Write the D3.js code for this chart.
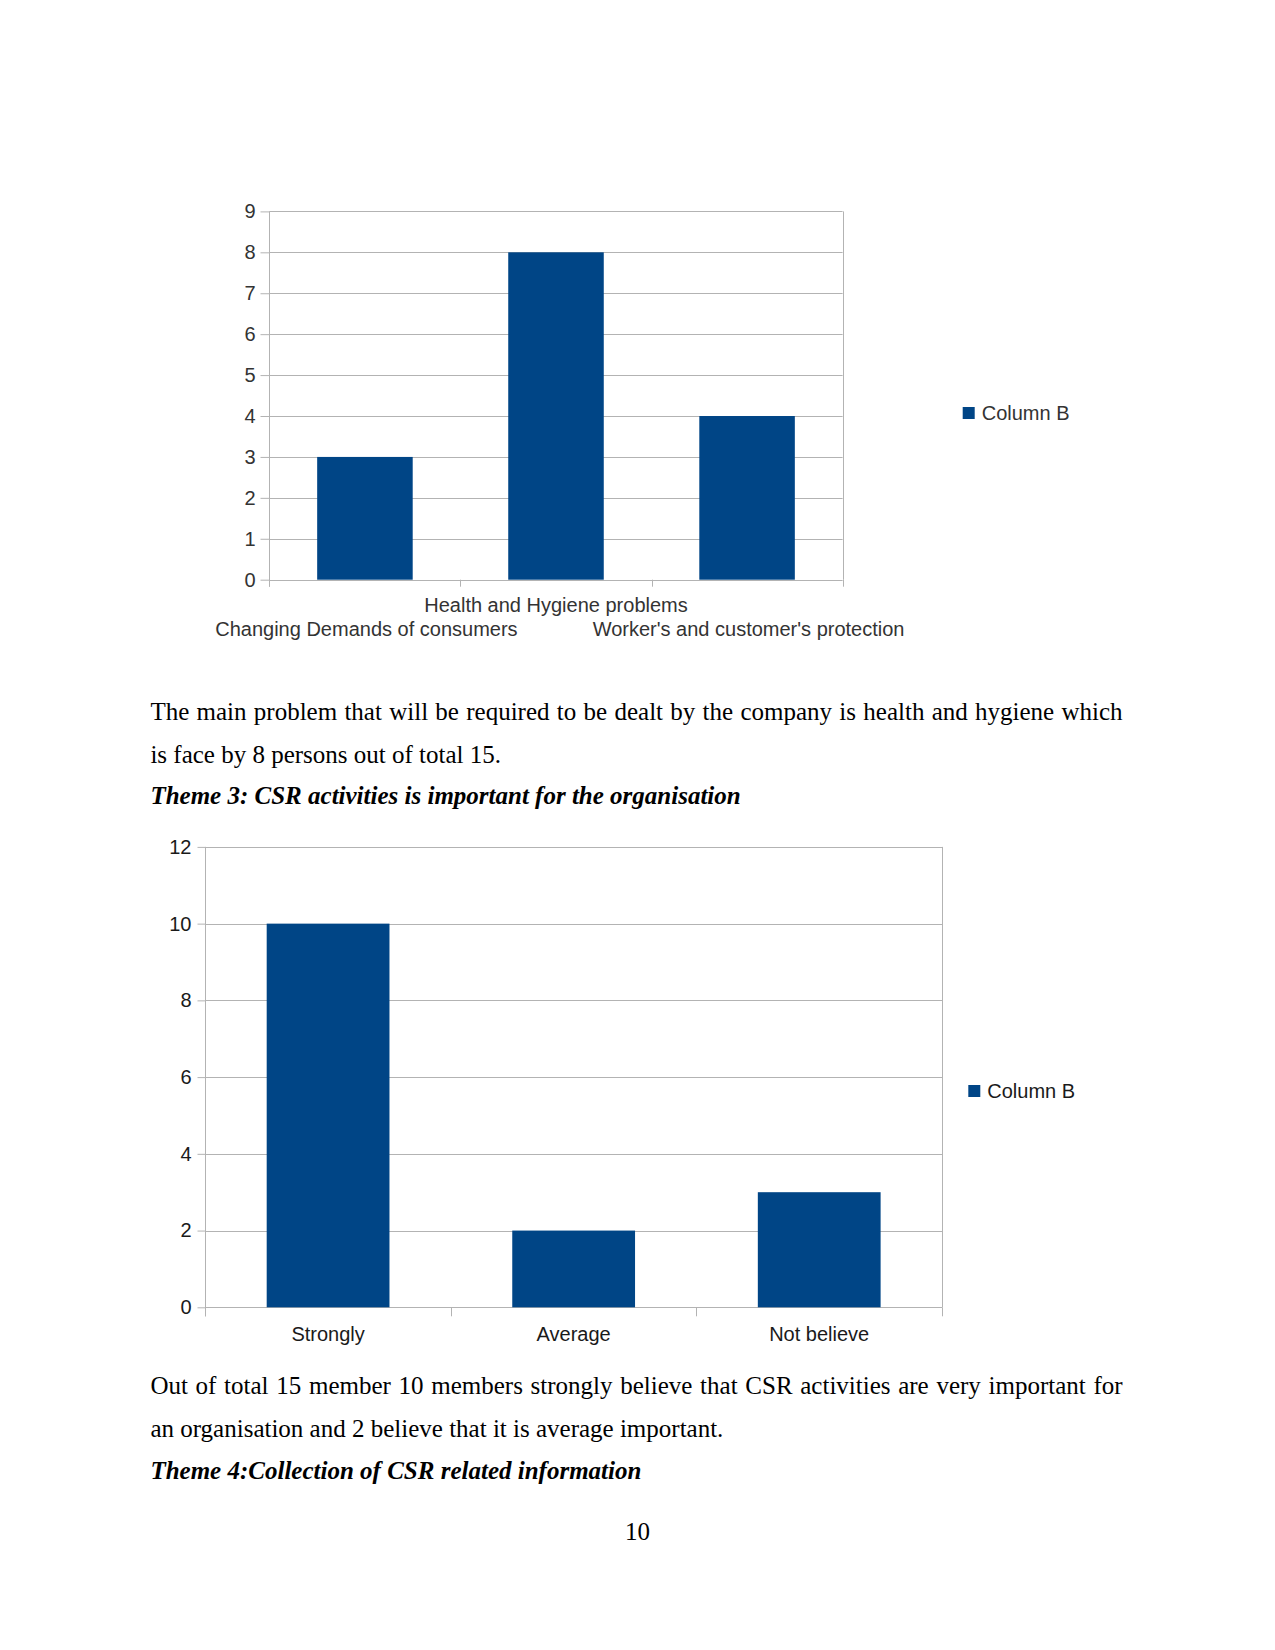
<!DOCTYPE html>
<html><head><meta charset="utf-8">
<script src="https://cdn.jsdelivr.net/npm/d3@7"></script>
<style>
html,body{margin:0;padding:0;background:#fff;}
svg{display:block;}
</style></head>
<body>
<svg id="page" width="1275" height="1650"></svg>
<script>
// ---- data ----
const seriesName = "Column B";
const cats1 = ["Changing Demands of consumers", "Health and Hygiene problems", "Worker's and customer's protection"];
const vals1 = [3, 8, 4];
const ticks1 = [0, 1, 2, 3, 4, 5, 6, 7, 8, 9];
const cats2 = ["Strongly", "Average", "Not believe"];
const vals2 = [10, 2, 3];
const ticks2 = [0, 2, 4, 6, 8, 10, 12];
const para1 = [
  "The main problem that will be required to be dealt by the company is health and hygiene which",
  "is face by 8 persons out of total 15."
];
const heading1 = "Theme 3: CSR activities is important for the organisation";
const para2 = [
  "Out of total 15 member 10 members strongly believe that CSR activities are very important for",
  "an organisation and 2 believe that it is average important."
];
const heading2 = "Theme 4:Collection of CSR related information";
const pageNo = "10";

const svg = d3.select("#page");
svg.append("rect").attr("width",1275).attr("height",1650).attr("fill","#fff");
const BAR = "#004586", GRID = "#b3b3b3";

function chart(o){
  const g = svg.append("g");
  const x = d3.scaleBand().domain(o.cats).range([o.left,o.right]).paddingInner(0.5).paddingOuter(0.25);
  const y = d3.scaleLinear().domain([0,o.max]).range([o.bottom,o.top]);
  // gridlines
  g.selectAll("line.grid").data(o.ticks).join("line")
    .attr("x1",o.left).attr("x2",o.right)
    .attr("y1",d=>Math.round(y(d))+0.5).attr("y2",d=>Math.round(y(d))+0.5)
    .attr("stroke",GRID).attr("stroke-width",1);
  // frame right
  g.append("line").attr("x1",Math.round(o.right)+0.5).attr("x2",Math.round(o.right)+0.5)
    .attr("y1",o.top).attr("y2",o.bottom).attr("stroke",GRID);
  // bars
  g.selectAll("rect.bar").data(o.vals).join("rect")
    .attr("x",(d,i)=>x(o.cats[i])).attr("width",x.bandwidth())
    .attr("y",d=>y(d)).attr("height",d=>y(0)-y(d)).attr("fill",BAR);
  // y axis
  const ya = d3.axisLeft(y).tickValues(o.ticks).tickSize(o.ytick).tickPadding(o.ypad).tickFormat(d3.format("d"));
  const yg = g.append("g").attr("transform",`translate(${Math.round(o.left)+0.5},0)`).call(ya);
  yg.select(".domain").attr("stroke",GRID).attr("d",`M0,${o.top}V${o.bottom+o.xtick}`);
  yg.selectAll(".tick line").attr("stroke",GRID);
  yg.selectAll(".tick text").attr("fill",o.color).attr("font-family","'Liberation Sans',Arial,sans-serif").attr("font-size",o.fs);
  // x axis boundary ticks
  const bounds = o.cats.map((c,i)=>o.left + i*(o.right-o.left)/o.cats.length).concat([o.right]);
  g.selectAll("line.xt").data(bounds).join("line")
    .attr("x1",d=>Math.round(d)+0.5).attr("x2",d=>Math.round(d)+0.5)
    .attr("y1",o.bottom).attr("y2",o.bottom+o.xtick).attr("stroke",GRID);
  // x labels
  g.selectAll("text.xl").data(o.cats).join("text")
    .attr("x",(d,i)=>x(d)+x.bandwidth()/2 + (o.stagger && i%2===0 ? 1.5 : 0))
    .attr("y",(d,i)=>o.stagger ? (i%2===1 ? o.lab1 : o.lab2) : o.lab1)
    .attr("text-anchor","middle").attr("fill",o.color)
    .attr("font-family","'Liberation Sans',Arial,sans-serif").attr("font-size",o.fs)
    .text(d=>d);
  // legend
  g.append("rect").attr("x",o.legX).attr("y",o.legY).attr("width",12).attr("height",12).attr("fill",BAR);
  g.append("text").attr("x",o.legX+19).attr("y",o.legY+12.5).attr("fill",o.color)
    .attr("font-family","'Liberation Sans',Arial,sans-serif").attr("font-size",o.fs).text(seriesName);
}

chart({cats:cats1, vals:vals1, ticks:ticks1, max:9, left:269.4, right:842.6, top:211.4, bottom:579.7,
  ytick:9, ypad:5, xtick:7, fs:20, color:"#333", stagger:true, lab1:611.6, lab2:635.5, legX:962.7, legY:407});
chart({cats:cats2, vals:vals2, ticks:ticks2, max:12, left:205.3, right:942, top:846.9, bottom:1307.3,
  ytick:8, ypad:6, xtick:9, fs:20, color:"#1a1a1a", stagger:false, lab1:1340.5, legX:968.3, legY:1085});

// ---- body text ----
const SERIF = "'Liberation Serif','Times New Roman',serif";
const LEFT = 150.4, WIDTH = 972.2;
function line(txt, yb, opts={}){
  const t = svg.append("text").attr("x",LEFT).attr("y",yb)
    .attr("font-family",SERIF).attr("font-size",25).attr("fill","#000")
    .attr("font-weight",opts.bold?"bold":"normal").attr("font-style",opts.italic?"italic":"normal")
    .text(txt);
  if(opts.justify){
    const natural = t.node().getComputedTextLength();
    const spaces = (txt.match(/ /g)||[]).length;
    if(spaces>0) t.attr("word-spacing",(WIDTH-natural)/spaces);
  }
  return t;
}
line(para1[0], 719.5, {justify:true});
line(para1[1], 762.5);
line(heading1, 803.5, {bold:true, italic:true});
line(para2[0], 1394, {justify:true});
line(para2[1], 1437);
line(heading2, 1479.3, {bold:true, italic:true});
svg.append("text").attr("x",637.5).attr("y",1539.5).attr("text-anchor","middle")
  .attr("font-family",SERIF).attr("font-size",25).attr("fill","#000").text(pageNo);
</script>
</body></html>
